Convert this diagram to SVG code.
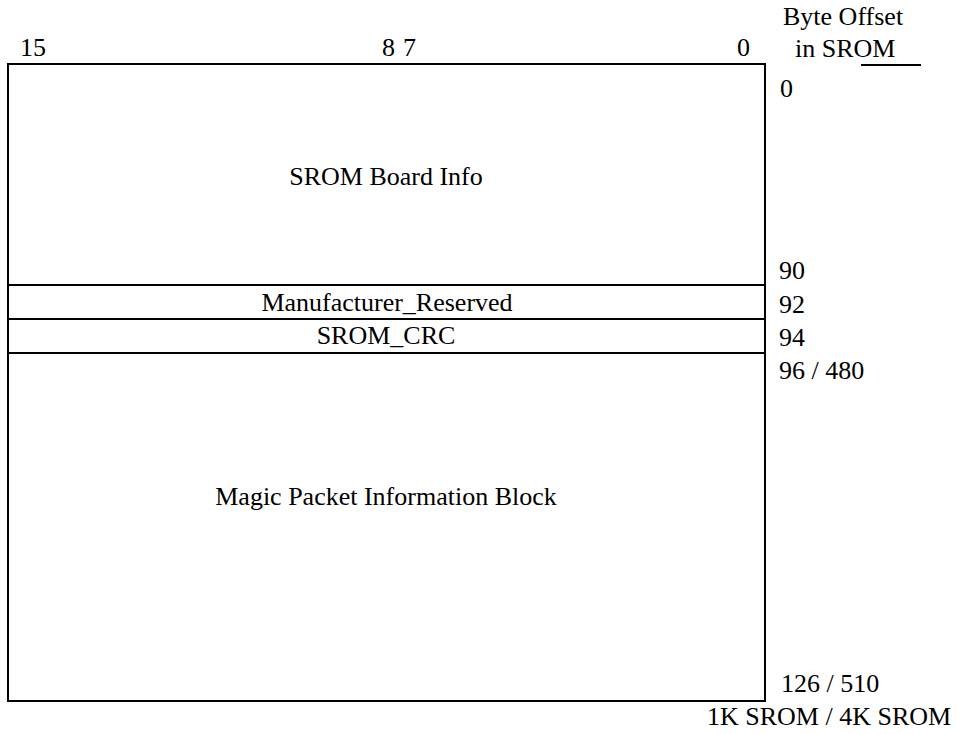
<svg xmlns="http://www.w3.org/2000/svg" width="958" height="734" viewBox="0 0 958 734">
<style>
text{font-family:"Liberation Serif","Times New Roman",serif;font-size:26px;fill:#000}
.c{text-anchor:middle}
.ln{stroke:#000;stroke-width:2;fill:none}
</style>
<rect width="958" height="734" fill="#fff"/>
<g id="header">
<text x="20" y="56">15</text>
<text x="382" y="56">8</text>
<text x="403" y="56">7</text>
<text x="737" y="56">0</text>
<text x="783" y="25">Byte Offset</text>
<text x="795" y="57">in SROM</text>
<line class="ln" x1="861" y1="65" x2="921" y2="65"/>
</g>
<g id="board-info">
<rect class="ln" x="8" y="64" width="757" height="221"/>
<text class="c" x="386" y="185">SROM Board Info</text>
</g>
<g id="manufacturer-reserved">
<rect class="ln" x="8" y="285" width="757" height="34"/>
<text class="c" x="387" y="311">Manufacturer_Reserved</text>
</g>
<g id="srom-crc">
<rect class="ln" x="8" y="319" width="757" height="34"/>
<text class="c" x="386" y="344">SROM_CRC</text>
</g>
<g id="magic-packet">
<rect class="ln" x="8" y="353" width="757" height="348"/>
<text class="c" x="386" y="505">Magic Packet Information Block</text>
</g>
<g id="offsets">
<text x="780" y="97">0</text>
<text x="779" y="279">90</text>
<text x="779" y="313">92</text>
<text x="779" y="346">94</text>
<text x="779" y="379">96 / 480</text>
<text x="781" y="692">126 / 510</text>
<text x="707" y="725">1K SROM / 4K SROM</text>
</g>
<g id="connectors"></g>
</svg>
